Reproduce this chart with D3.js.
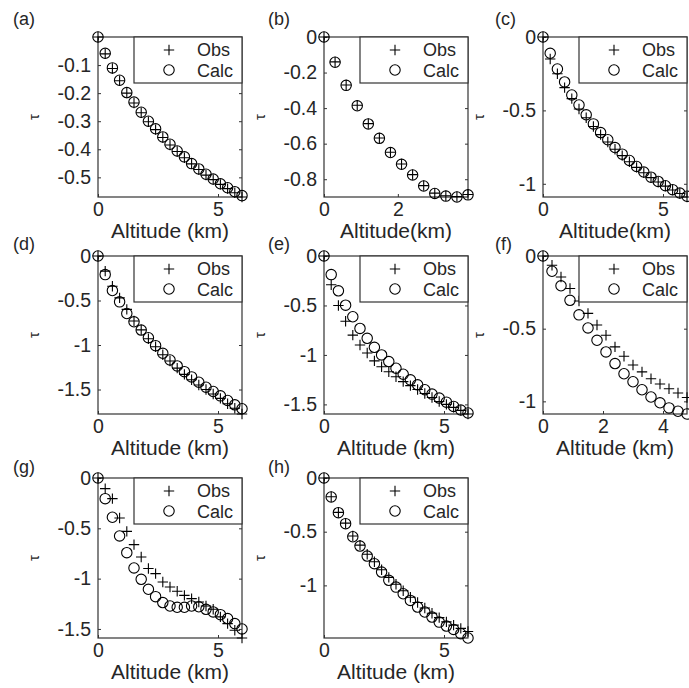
<!DOCTYPE html>
<html>
<head>
<meta charset="utf-8">
<script src="https://cdn.jsdelivr.net/npm/d3@7"></script>
<style>
  html, body { margin: 0; padding: 0; background: #fff; }
  svg text { font-family: "Liberation Sans", Arial, Helvetica, sans-serif; fill: #262626; }
</style>
</head>
<body>
<svg id="chart" width="689" height="688"></svg>
<script>
// ---------------- data ----------------
const altFull = [0, 0.3, 0.6, 0.9, 1.2, 1.5, 1.8, 2.1, 2.4, 2.7, 3.0, 3.3, 3.6, 3.9, 4.2, 4.5, 4.8, 5.1, 5.4, 5.7, 6.0];
const altB = [0, 0.3, 0.6, 0.9, 1.2, 1.5, 1.8, 2.1, 2.4, 2.7, 3.0, 3.3, 3.6, 3.9];
const altF = [0, 0.3, 0.6, 0.9, 1.2, 1.5, 1.8, 2.1, 2.4, 2.7, 3.0, 3.3, 3.6, 3.9, 4.2, 4.5, 4.8];

const obsA  = [0, -0.06, -0.112, -0.156, -0.2, -0.235, -0.27, -0.302, -0.33, -0.358, -0.385, -0.408, -0.43, -0.452, -0.472, -0.492, -0.508, -0.525, -0.54, -0.555, -0.57];
const calcA = [0, -0.058, -0.11, -0.154, -0.198, -0.232, -0.268, -0.3, -0.327, -0.356, -0.382, -0.406, -0.427, -0.451, -0.47, -0.489, -0.506, -0.523, -0.537, -0.551, -0.565];

const obsB  = [0, -0.14, -0.27, -0.384, -0.487, -0.568, -0.648, -0.714, -0.774, -0.836, -0.878, -0.893, -0.898, -0.886];
const calcB = [0, -0.142, -0.272, -0.387, -0.489, -0.57, -0.65, -0.716, -0.776, -0.838, -0.88, -0.895, -0.9, -0.888];

const obsC  = [0, -0.15, -0.25, -0.345, -0.42, -0.49, -0.55, -0.61, -0.665, -0.715, -0.765, -0.808, -0.85, -0.888, -0.925, -0.958, -0.988, -1.016, -1.042, -1.066, -1.09];
const calcC = [0, -0.111, -0.218, -0.306, -0.395, -0.463, -0.53, -0.592, -0.651, -0.7, -0.753, -0.798, -0.841, -0.882, -0.92, -0.955, -0.984, -1.013, -1.04, -1.063, -1.085];

const obsD  = [0, -0.17, -0.34, -0.47, -0.6, -0.73, -0.83, -0.93, -1.02, -1.11, -1.18, -1.26, -1.33, -1.39, -1.45, -1.5, -1.55, -1.6, -1.66, -1.71, -1.775];
const calcD = [0, -0.209, -0.388, -0.515, -0.646, -0.739, -0.832, -0.918, -1.007, -1.093, -1.168, -1.235, -1.299, -1.358, -1.418, -1.474, -1.522, -1.571, -1.623, -1.672, -1.716];

const obsE  = [0, -0.29, -0.5, -0.66, -0.8, -0.9, -0.98, -1.06, -1.12, -1.17, -1.22, -1.27, -1.31, -1.35, -1.39, -1.43, -1.47, -1.5, -1.53, -1.56, -1.597];
const calcE = [0, -0.188, -0.352, -0.497, -0.614, -0.732, -0.832, -0.923, -1.0, -1.067, -1.134, -1.195, -1.252, -1.302, -1.352, -1.396, -1.436, -1.477, -1.52, -1.557, -1.587];

const obsF  = [0, -0.064, -0.144, -0.224, -0.31, -0.395, -0.475, -0.545, -0.625, -0.69, -0.75, -0.797, -0.845, -0.881, -0.913, -0.943, -0.973];
const calcF = [0, -0.105, -0.205, -0.305, -0.405, -0.495, -0.58, -0.66, -0.74, -0.81, -0.865, -0.92, -0.97, -1.01, -1.045, -1.068, -1.087];

const obsG  = [0, -0.106, -0.205, -0.397, -0.53, -0.662, -0.785, -0.9, -0.95, -1.033, -1.083, -1.126, -1.166, -1.199, -1.232, -1.272, -1.305, -1.38, -1.447, -1.513, -1.59];
const calcG = [0, -0.205, -0.39, -0.576, -0.742, -0.894, -1.007, -1.106, -1.179, -1.238, -1.272, -1.285, -1.285, -1.272, -1.28, -1.305, -1.331, -1.358, -1.397, -1.447, -1.5];

const obsH  = [0, -0.175, -0.32, -0.42, -0.54, -0.625, -0.71, -0.78, -0.855, -0.925, -0.99, -1.05, -1.11, -1.16, -1.21, -1.26, -1.3, -1.34, -1.37, -1.4, -1.43];
const calcH = [0, -0.177, -0.323, -0.425, -0.547, -0.634, -0.727, -0.798, -0.876, -0.953, -1.016, -1.078, -1.14, -1.202, -1.248, -1.295, -1.342, -1.379, -1.41, -1.45, -1.49];

const panelLabels = ["(a)", "(b)", "(c)", "(d)", "(e)", "(f)", "(g)", "(h)"];
const xLabels = ["Altitude (km)", "Altitude(km)", "Altitude(km)", "Altitude (km)", "Altitude (km)", "Altitude (km)", "Altitude (km)", "Altitude (km)"];
const yLabel = "τ";
const legendLabels = ["Obs", "Calc"];

const xTicksA = [0, 5], xTicksB = [0, 2], xTicksC = [0, 5], xTicksD = [0, 5];
const xTicksE = [0, 5], xTicksF = [0, 2, 4], xTicksG = [0, 5], xTicksH = [0, 5];

const yTicksA = [-0.1, -0.2, -0.3, -0.4, -0.5];
const yTicksB = [0, -0.2, -0.4, -0.6, -0.8];
const yTicksC = [0, -0.5, -1];
const yTicksD = [0, -0.5, -1, -1.5];
const yTicksE = [0, -0.5, -1, -1.5];
const yTicksF = [0, -0.5, -1];
const yTicksG = [0, -0.5, -1, -1.5];
const yTicksH = [0, -0.5, -1];

// ---------------- layout ----------------
const cols = [{l: 98, r: 242}, {l: 324, r: 468}, {l: 543, r: 687}];
const rows = [{t: 37, b: 197, lab: 25}, {t: 256, b: 414, lab: 250}, {t: 478, b: 638, lab: 473}];
const labelX = [13, 268, 495];

const panels = [
  {alt: altFull, obs: obsA, calc: calcA, xt: xTicksA, yt: yTicksA},
  {alt: altB,    obs: obsB, calc: calcB, xt: xTicksB, yt: yTicksB},
  {alt: altFull, obs: obsC, calc: calcC, xt: xTicksC, yt: yTicksC},
  {alt: altFull, obs: obsD, calc: calcD, xt: xTicksD, yt: yTicksD},
  {alt: altFull, obs: obsE, calc: calcE, xt: xTicksE, yt: yTicksE},
  {alt: altF,    obs: obsF, calc: calcF, xt: xTicksF, yt: yTicksF},
  {alt: altFull, obs: obsG, calc: calcG, xt: xTicksG, yt: yTicksG},
  {alt: altFull, obs: obsH, calc: calcH, xt: xTicksH, yt: yTicksH}
];

const svg = d3.select("#chart");
const axisColor = "#333";
const tickFont = 19.5;
const fmt = d => (d === 0 ? "0" : String(d));
const R = 5.2, P = 5.2;

function plusPath(cx, cy) {
  return `M${cx - P},${cy}H${cx + P}M${cx},${cy - P}V${cy + P}`;
}

panels.forEach((p, i) => {
  const c = cols[i % 3], rw = rows[Math.floor(i / 3)];
  const x = d3.scaleLinear().domain([0, d3.max(p.alt)]).range([c.l, c.r]);
  const y = d3.scaleLinear().domain([d3.min(p.obs.concat(p.calc)), 0]).range([rw.b, rw.t]);
  const g = svg.append("g");

  // box
  g.append("rect").attr("x", c.l).attr("y", rw.t).attr("width", c.r - c.l).attr("height", rw.b - rw.t)
    .attr("fill", "none").attr("stroke", axisColor).attr("stroke-width", 1.2);

  // axes
  const ax = [
    g.append("g").attr("transform", `translate(0,${rw.b})`)
      .call(d3.axisBottom(x).tickValues(p.xt).tickSizeInner(-3).tickSizeOuter(0).tickPadding(5).tickFormat(fmt)),
    g.append("g").attr("transform", `translate(0,${rw.t})`)
      .call(d3.axisTop(x).tickValues(p.xt).tickSizeInner(-3).tickSizeOuter(0).tickFormat("")),
    g.append("g").attr("transform", `translate(${c.l},0)`)
      .call(d3.axisLeft(y).tickValues(p.yt).tickSizeInner(-3).tickSizeOuter(0).tickPadding(7).tickFormat(fmt)),
    g.append("g").attr("transform", `translate(${c.r},0)`)
      .call(d3.axisRight(y).tickValues(p.yt).tickSizeInner(-3).tickSizeOuter(0).tickFormat(""))
  ];
  ax.forEach(a => {
    a.select(".domain").remove();
    a.selectAll("line").attr("stroke", axisColor).attr("stroke-width", 1);
    a.selectAll("text").style("font-size", tickFont + "px").attr("fill", "#262626")
      .style("font-family", '"Liberation Sans", Arial, Helvetica, sans-serif');
  });

  // labels
  g.append("text").attr("x", (c.l + c.r) / 2).attr("y", rw.b + 41).attr("text-anchor", "middle")
    .style("font-size", "21px").text(xLabels[i]);
  g.append("text").attr("transform", `translate(${c.l - 64},${(rw.t + rw.b) / 2}) rotate(-90)`)
    .attr("text-anchor", "middle").attr("dy", "0.35em").style("font-size", "15px").text(yLabel);
  g.append("text").attr("x", labelX[i % 3]).attr("y", rw.lab).style("font-size", "18px").attr("fill", "#000")
    .text(panelLabels[i]);

  // markers
  g.append("g").selectAll("path").data(p.alt.map((a, k) => [a, p.obs[k]])).join("path")
    .attr("d", d => plusPath(x(d[0]), y(d[1])))
    .attr("stroke", "#000").attr("stroke-width", 1.1).attr("fill", "none");
  g.append("g").selectAll("circle").data(p.alt.map((a, k) => [a, p.calc[k]])).join("circle")
    .attr("cx", d => x(d[0])).attr("cy", d => y(d[1])).attr("r", R)
    .attr("stroke", "#000").attr("stroke-width", 1.1).attr("fill", "none");

  // legend
  const lw = 108, lh = 46, lx = c.r - lw, ly = rw.t;
  const lg = g.append("g");
  lg.append("rect").attr("x", lx).attr("y", ly).attr("width", lw).attr("height", lh)
    .attr("fill", "#fff").attr("stroke", axisColor).attr("stroke-width", 1.2);
  lg.append("path").attr("d", plusPath(lx + 35, ly + 13)).attr("stroke", "#000").attr("stroke-width", 1.1);
  lg.append("circle").attr("cx", lx + 35).attr("cy", ly + 33).attr("r", R)
    .attr("stroke", "#000").attr("stroke-width", 1.1).attr("fill", "none");
  lg.append("text").attr("x", lx + 63).attr("y", ly + 19).style("font-size", "18px").attr("fill", "#000").text(legendLabels[0]);
  lg.append("text").attr("x", lx + 63).attr("y", ly + 40).style("font-size", "18px").attr("fill", "#000").text(legendLabels[1]);
});
</script>
</body>
</html>
